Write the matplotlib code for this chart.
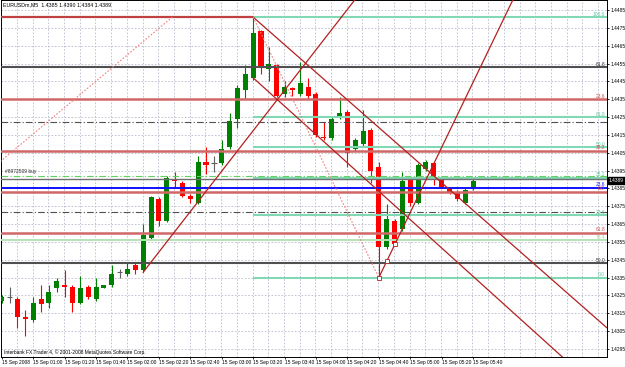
import numpy as np
import matplotlib
matplotlib.use('Agg')
import matplotlib.pyplot as plt
import matplotlib.transforms as mtransforms

plt.rcParams['font.family'] = ['Liberation Sans', 'DejaVu Sans']

# EURUSDm M5 candles, 15 Sep 2008 (bar 0 = 00:40)
opens = [1.4322, 1.4324, 1.4323, 1.4313, 1.4311, 1.4323, 1.4321, 1.4329, 1.4331, 1.4330,
         1.4321, 1.4330, 1.4323, 1.4329, 1.4331, 1.4338, 1.4337, 1.4342, 1.4339, 1.4357,
         1.4379, 1.4367, 1.4390, 1.4388, 1.4381, 1.4377, 1.4400, 1.4399, 1.4399, 1.4408,
         1.4424, 1.4440, 1.4447, 1.4473, 1.4452, 1.4454, 1.4438, 1.4441, 1.4438, 1.4442,
         1.4438, 1.4414, 1.4413, 1.4425, 1.4428, 1.4407, 1.4410, 1.4418, 1.4397, 1.4352,
         1.4367, 1.4362, 1.4390, 1.4377, 1.4396, 1.4399, 1.4390, 1.4385, 1.4383, 1.4377,
         1.4385]
highs = [1.4325, 1.4330, 1.4324, 1.4317, 1.4324, 1.4331, 1.4331, 1.4335, 1.4339, 1.4331,
         1.4336, 1.4331, 1.4335, 1.4331, 1.4342, 1.4340, 1.4344, 1.4343, 1.4365, 1.4381,
         1.4380, 1.4392, 1.4394, 1.4389, 1.4382, 1.4403, 1.4408, 1.4403, 1.4412, 1.4427,
         1.4443, 1.4454, 1.4481, 1.4474, 1.4464, 1.4455, 1.4445, 1.4442, 1.4456, 1.4447,
         1.4439, 1.4422, 1.4425, 1.4436, 1.4429, 1.4413, 1.4429, 1.4419, 1.4400, 1.4376,
         1.4368, 1.4394, 1.4391, 1.4399, 1.4401, 1.4400, 1.4392, 1.4386, 1.4384, 1.4385,
         1.4390]
lows = [1.4321, 1.4321, 1.4307, 1.4302, 1.4310, 1.4316, 1.4318, 1.4327, 1.4324, 1.4316,
        1.4320, 1.4323, 1.4322, 1.4329, 1.4330, 1.4335, 1.4336, 1.4337, 1.4338, 1.4356,
        1.4364, 1.4366, 1.4386, 1.4380, 1.4377, 1.4376, 1.4393, 1.4394, 1.4398, 1.4407,
        1.4419, 1.4435, 1.4446, 1.4449, 1.4445, 1.4436, 1.4436, 1.4437, 1.4437, 1.4435,
        1.4414, 1.4412, 1.4412, 1.4424, 1.4397, 1.4406, 1.4409, 1.4388, 1.4335, 1.4351,
        1.4353, 1.4361, 1.4375, 1.4376, 1.4395, 1.4387, 1.4385, 1.4382, 1.4378, 1.4376,
        1.4384]
closes = [1.4324, 1.4324, 1.4313, 1.4312, 1.4321, 1.4320, 1.4327, 1.4333, 1.4330, 1.4321,
          1.4329, 1.4324, 1.4330, 1.4331, 1.4337, 1.4338, 1.4340, 1.4339, 1.4359, 1.4380,
          1.4367, 1.4391, 1.4389, 1.4381, 1.4379, 1.4400, 1.4398, 1.4399, 1.4407, 1.4423,
          1.4441, 1.4449, 1.4472, 1.4453, 1.4455, 1.4437, 1.4442, 1.4440, 1.4444, 1.4437,
          1.4415, 1.4413, 1.4424, 1.4427, 1.4405, 1.4412, 1.4417, 1.4395, 1.4352, 1.4368,
          1.4354, 1.4389, 1.4377, 1.4398, 1.4400, 1.4391, 1.4386, 1.4383, 1.4379, 1.4384,
          1.4389]

time_labels = ["15 Sep 2008", "15 Sep 01:00", "15 Sep 01:20", "15 Sep 01:40", "15 Sep 02:00",
               "15 Sep 02:20", "15 Sep 02:40", "15 Sep 03:00", "15 Sep 03:20", "15 Sep 03:40",
               "15 Sep 04:00", "15 Sep 04:20", "15 Sep 04:40", "15 Sep 05:00", "15 Sep 05:20",
               "15 Sep 05:40"]
price_ticks = [1.4295, 1.4305, 1.4315, 1.4325, 1.4335, 1.4345, 1.4355, 1.4365, 1.4375, 1.4385,
               1.4395, 1.4405, 1.4415, 1.4425, 1.4435, 1.4445, 1.4455, 1.4465, 1.4475, 1.4485]

# fibo levels (teal) drawn from the 03:20 high to the 04:40 low
fib_prices = [1.4335, 1.4370, 1.4391, 1.4408, 1.4425, 1.4481]
fib_labels = ["0.0", "23.6", "38.2", "50.0", "61.8", "100.0"]
red_levels = [1.4435, 1.4406, 1.4383, 1.4360]
red_labels = ["23.6", "38.2", "0.0", "61.8"]
dark_levels = [1.4453, 1.4343]
dark_labels = ["61.8", "50.0"]
blue_level = 1.4385
light_level = 1.4356
dashdot_levels = [1.4422, 1.4372]
order_price = 1.4392
bid_price = 1.4390
top_line = 1.4481

# trendlines as (bar, price) pairs
channel_top = [(32, 1.4481), (77, 1.4307)]
channel_bot = [(32, 1.4447), (71.5, 1.4290)]
rise_left = [(18, 1.4338), (45, 1.4491)]
rise_right = [(48, 1.4335), (65.1, 1.4491)]
fib_diag = [(32, 1.4481), (48, 1.4335)]
order_diag = [(-0.2, 1.4400), (21.7, 1.4481)]

fig = plt.figure(figsize=(6.25, 3.67), dpi=100)
ax = fig.add_axes([0.0016, 0.0272, 0.9696, 0.9728])
ax.set_xlim(-0.1, 77.05)
ax.set_ylim(1.42905, 1.44906)

x = np.arange(len(opens))
o = np.array(opens); h = np.array(highs); l = np.array(lows); c = np.array(closes)
cols = np.where(c > o, '#008000', np.where(c < o, '#ff0000', '#606060'))

ax.vlines(x, l, h, colors=cols, lw=0.8, zorder=3)
body = np.maximum(np.abs(c - o), 0.00002)
ax.bar(x, body, bottom=np.minimum(o, c), width=0.64, color=cols, linewidth=0, zorder=3)
doji = c == o
ax.hlines(o[doji], x[doji] - 0.35, x[doji] + 0.35, colors='#606060', lw=0.8, zorder=3)

# grid
for b in range(0, 78, 2):
    ax.axvline(b - 0.08, color='#b8bccc', lw=0.6, ls=(0, (2, 2)), zorder=1)
for p in price_ticks:
    ax.axhline(p, color='#b8bccc', lw=0.6, ls=(0, (2, 2)), zorder=1)

lab_x = 76.8
fs = 3.5

def level_label(y, text, color):
    ax.text(lab_x, y + 0.00003, text, color=color, fontsize=fs, ha='right', va='bottom', zorder=6)

# horizontal objects
ax.hlines(top_line, -1, 32, colors='#c04040', lw=1.6, zorder=4)
for p, t in zip(fib_prices, fib_labels):
    ax.hlines(p, 32, 80, colors='#80d8b4', lw=1.5, zorder=4)
    level_label(p, t, '#60c8a0')
for p, t in zip(red_levels, red_labels):
    ax.axhline(p, color='#d06868', lw=1.8, zorder=4)
    level_label(p, t, '#d05050')
for p, t in zip(dark_levels, dark_labels):
    ax.axhline(p, color='#505050', lw=1.5, zorder=4)
    level_label(p, t, '#303030')
ax.axhline(blue_level, color='#1010ff', lw=1.4, zorder=5)
level_label(blue_level + 0.00004, "23.6", '#1010ff')
ax.axhline(light_level, color='#b4e4b4', lw=1.4, zorder=4)
level_label(light_level, "76.4", '#a0d8a0')
for p in dashdot_levels:
    ax.axhline(p, color='#505050', lw=0.8, ls=(0, (6, 2, 1, 2)), zorder=4)
ax.axhline(order_price, color='#60d060', lw=0.8, ls=(0, (6, 2, 1, 2)), zorder=4)
ax.text(0.4, order_price + 0.00008, "#8972509 buy", fontsize=fs, color='#303030', va='bottom', zorder=6)
ax.axhline(bid_price, color='#707070', lw=1.0, zorder=4)

# diagonals
for seg in [channel_top, channel_bot, rise_left, rise_right]:
    (x0, y0), (x1, y1) = seg
    ax.plot([x0, x1], [y0, y1], color='#b42020', lw=0.9, zorder=5)
for seg in [fib_diag, order_diag]:
    (x0, y0), (x1, y1) = seg
    ax.plot([x0, x1], [y0, y1], color='#f08080', lw=0.8, ls=(0, (1.5, 1.5)), zorder=5)
(x0, y0), (x1, y1) = rise_right
for t in [0.0, 0.06, 0.12]:
    ax.plot(x0 + t * (x1 - x0), y0 + t * (y1 - y0), marker='s', ms=2.2, mfc='white',
            mec='#b42020', mew=0.6, zorder=6)

# axes
ax.yaxis.tick_right()
ax.set_yticks(price_ticks)
ax.set_yticklabels(['%.4f' % p for p in price_ticks])
ax.set_xticks(np.arange(0, 61, 4))
ax.set_xticklabels(time_labels, ha='left')
ax.tick_params(axis='both', labelsize=fs, length=1.5, width=0.6, pad=0.8, colors='black')
for s in ax.spines.values():
    s.set_linewidth(0.7)
    s.set_color('black')

tr = mtransforms.blended_transform_factory(ax.transAxes, ax.transData)
ax.text(1.003, bid_price - 0.00004, "1.4389", transform=tr, fontsize=fs, color='white', va='center',
        ha='left', clip_on=False, zorder=7,
        bbox=dict(boxstyle='square,pad=0.2', fc='black', ec='black'))

ax.text(0.004, 0.993, "EURUSDm,M5  1.4385 1.4390 1.4384 1.4389", transform=ax.transAxes,
        fontsize=3.8, va='top', ha='left', zorder=7)
ax.text(0.005, 0.014, "Interbank FX Trader 4, \u00a9 2001-2008 MetaQuotes Software Corp.",
        transform=ax.transAxes, fontsize=fs, va='center', ha='left', zorder=7)

fig.savefig('out.png', dpi=100, facecolor='white')
